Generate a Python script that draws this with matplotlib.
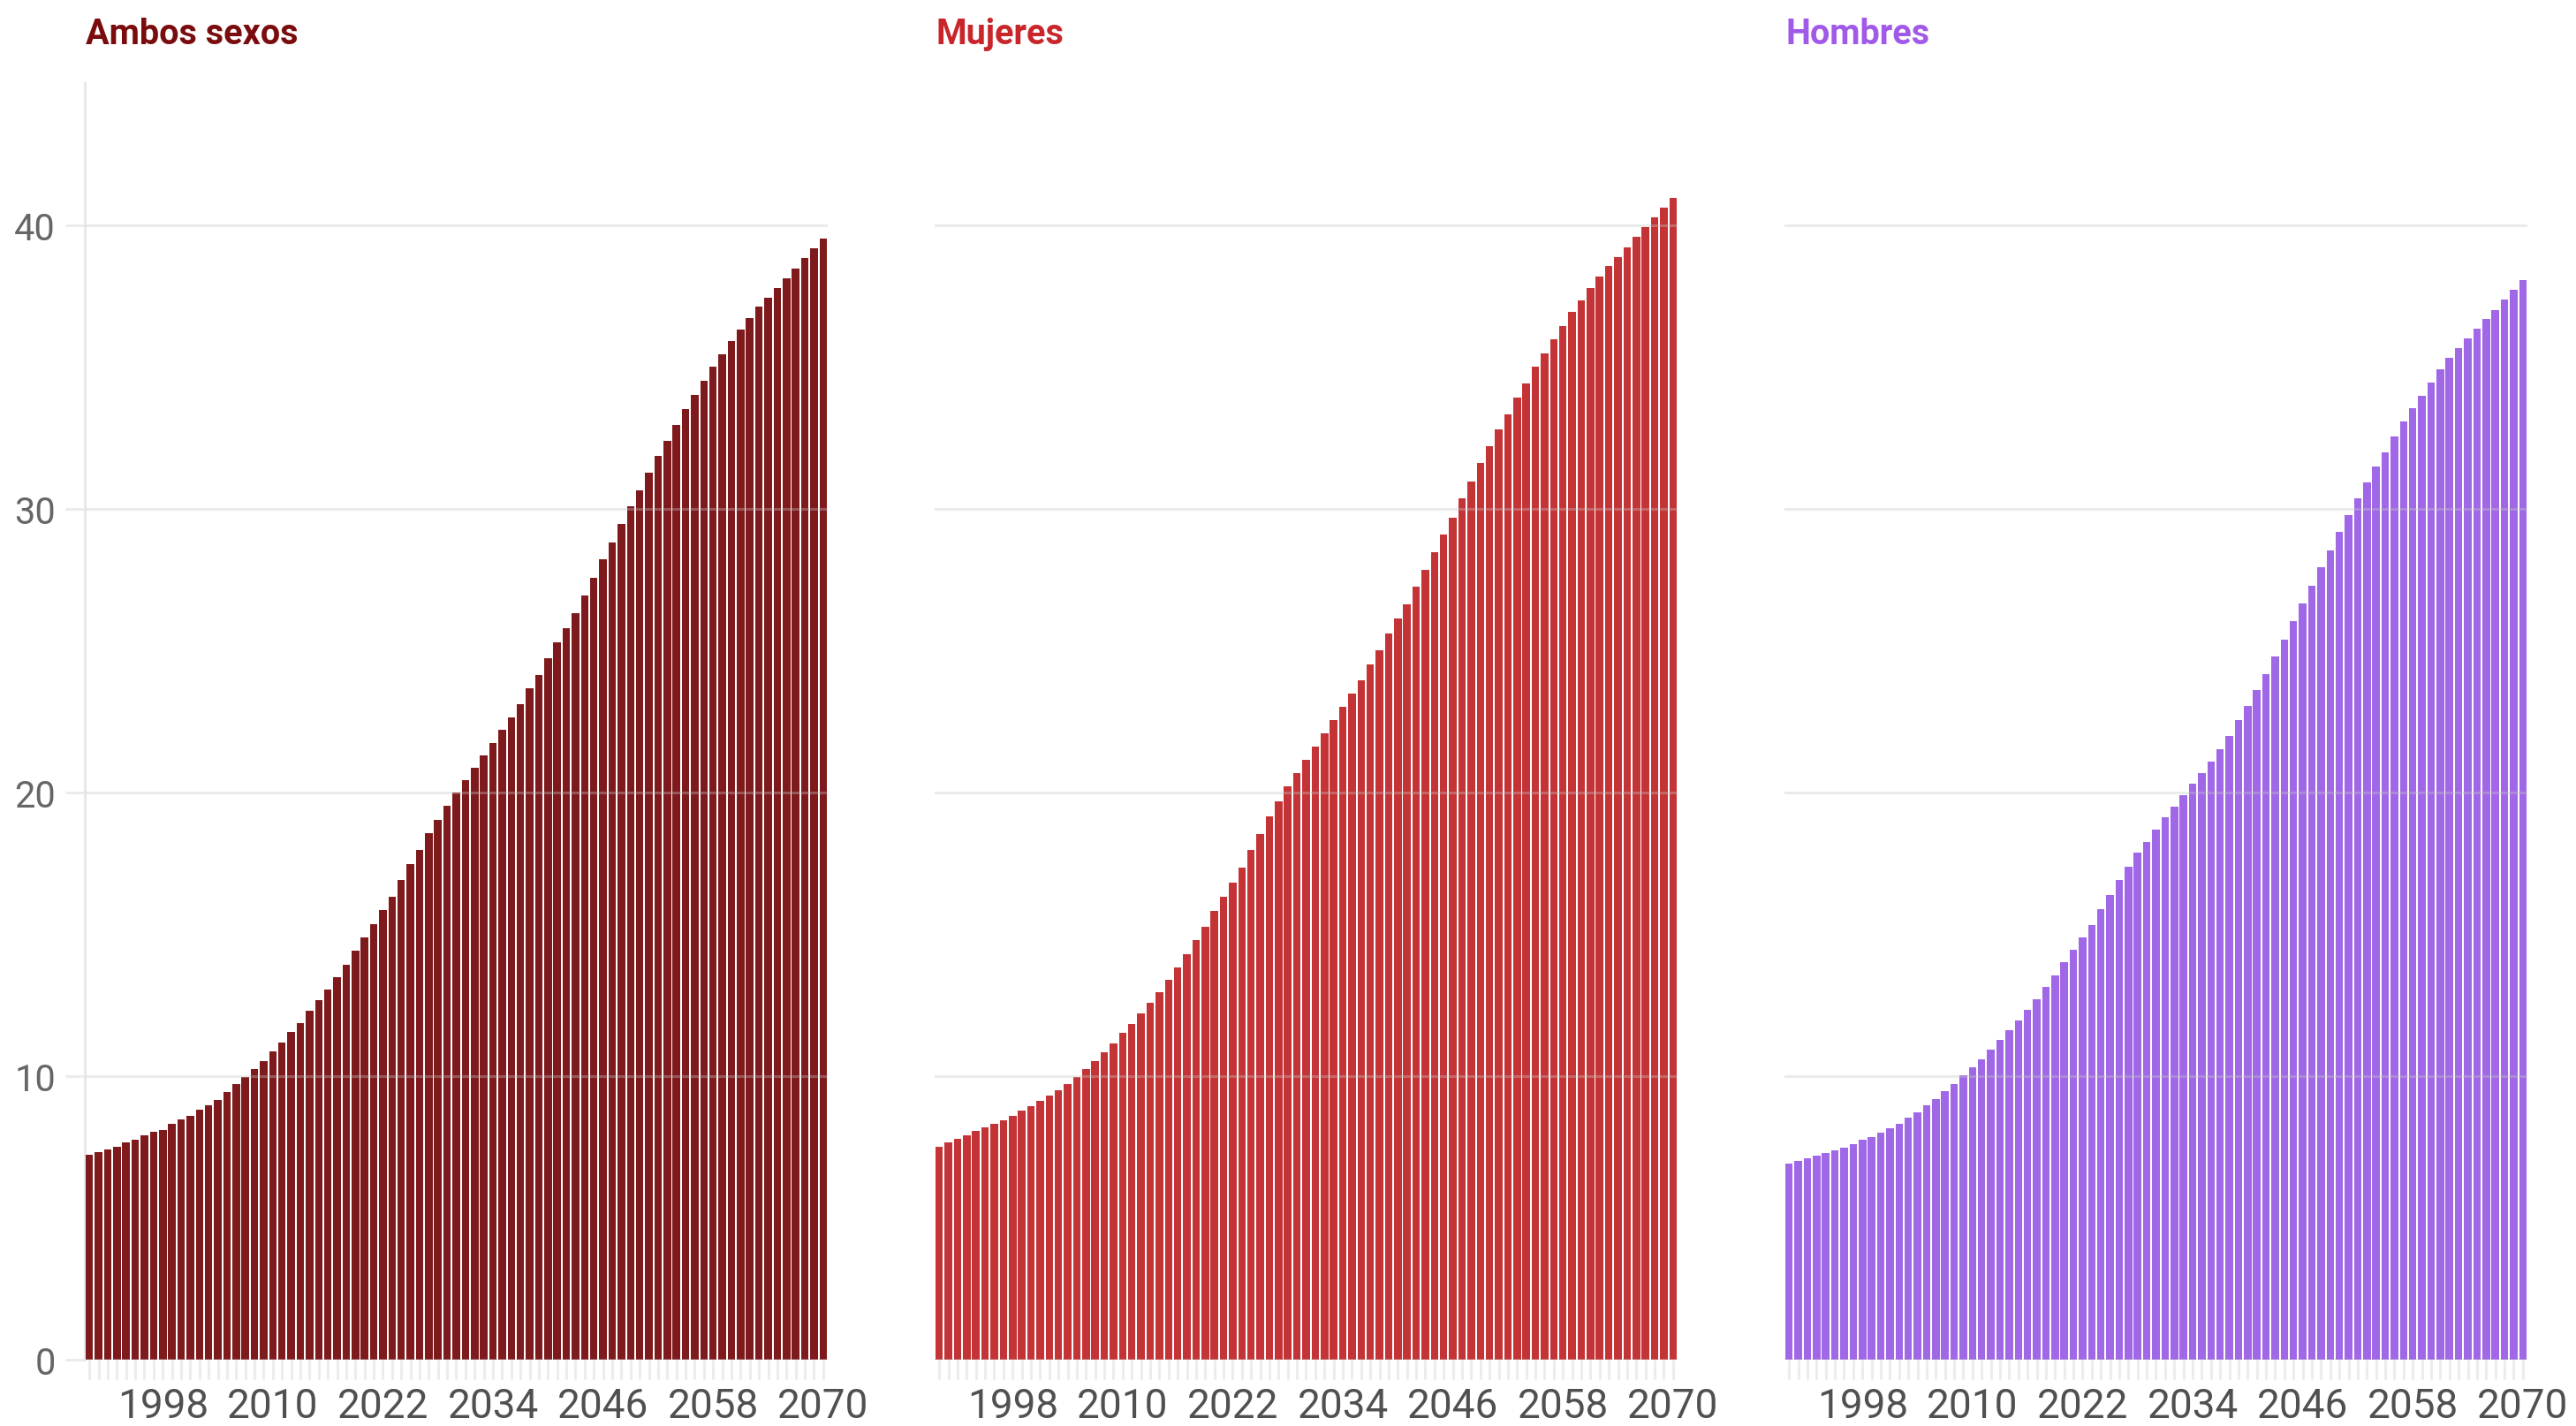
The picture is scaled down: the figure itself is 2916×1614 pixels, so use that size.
import matplotlib
matplotlib.use("Agg")
import matplotlib.pyplot as plt

years = list(range(1990, 2071))

ambos = [7.22, 7.33, 7.42, 7.52, 7.65, 7.75, 7.92, 8.03, 8.11, 8.30, 8.47, 8.58, 8.80, 8.97,
         9.17, 9.45, 9.71, 9.95, 10.26, 10.52, 10.86, 11.19, 11.54, 11.87,
         12.29, 12.67, 13.04, 13.49, 13.92, 14.41, 14.89, 15.34, 15.85, 16.32, 16.92, 17.47,
         17.98, 18.55, 19.03, 19.52, 20.0, 20.43, 20.86, 21.29, 21.74, 22.20, 22.63, 23.12,
         23.66, 24.14, 24.73, 25.29,
         25.8, 26.31, 26.93, 27.56, 28.2, 28.8, 29.45, 30.09, 30.65, 31.27, 31.85, 32.4,
         32.96, 33.51, 34.0, 34.49, 35.0, 35.44, 35.91, 36.31, 36.73, 37.11, 37.43, 37.76,
         38.11, 38.47, 38.83, 39.17, 39.51]

mujeres = [7.5, 7.66, 7.79, 7.92, 8.07, 8.18, 8.33, 8.44, 8.59, 8.78, 8.94, 9.11, 9.30, 9.5,
           9.71, 9.98, 10.26, 10.52, 10.83, 11.15, 11.51, 11.82, 12.21, 12.58, 12.97, 13.39,
           13.83, 14.29, 14.79, 15.26, 15.81, 16.33, 16.82, 17.34, 17.97, 18.54, 19.14, 19.69,
           20.21,
           20.68, 21.15, 21.61, 22.08, 22.55, 23.02, 23.48,
           23.95, 24.52, 25.01, 25.59, 26.12, 26.64, 27.25, 27.84, 28.45, 29.08, 29.69, 30.35,
           30.96, 31.62, 32.19, 32.8, 33.32, 33.91, 34.41, 34.99, 35.47, 35.96, 36.43, 36.92,
           37.34, 37.77, 38.19, 38.55, 38.86, 39.22, 39.58, 39.92, 40.28, 40.62, 40.95]

hombres = [6.9, 7.0, 7.1, 7.19, 7.29, 7.38, 7.48, 7.6, 7.76, 7.86, 8.0, 8.15, 8.33, 8.52,
           8.73, 8.96, 9.2, 9.46, 9.72, 10.03, 10.31, 10.6, 10.94, 11.28, 11.61, 11.95, 12.34,
           12.71, 13.13, 13.54, 14.01, 14.46, 14.9, 15.33, 15.89, 16.38, 16.9, 17.38, 17.86,
           18.25, 18.7, 19.11, 19.5, 19.9, 20.31,
           20.69,
           21.07, 21.51, 21.99, 22.54, 23.04, 23.62, 24.18, 24.78, 25.37, 26.03, 26.66, 27.28,
           27.93, 28.53, 29.18, 29.78, 30.37, 30.92, 31.49, 31.99, 32.54, 33.07, 33.55, 33.99,
           34.45, 34.91, 35.3, 35.66, 36.01, 36.33, 36.67, 37.01, 37.37, 37.7, 38.07]

titles = ["Ambos sexos", "Mujeres", "Hombres"]
series = [ambos, mujeres, hombres]
bar_colors = ["#7f1a1c", "#c43336", "#a067e6"]
title_colors = ["#7a0c0e", "#c8262b", "#a159e8"]
label_years = [1998, 2010, 2022, 2034, 2046, 2058, 2070]
y_ticks = [0, 10, 20, 30, 40]

W, H = 2916, 1615
DPI = 100
plt.rcParams['font.family'] = ['Roboto', 'DejaVu Sans']
fig = plt.figure(figsize=(W / DPI, H / DPI), dpi=DPI)

lefts_px = [96, 1058, 2020]
width_px = 841
bottom_px = 1540
top_px = 95

for i, (title, vals, bc, tc) in enumerate(zip(titles, series, bar_colors, title_colors)):
    ax = fig.add_axes([lefts_px[i] / W, (H - bottom_px) / H,
                       width_px / W, (bottom_px - top_px) / H])
    ax.bar(years, vals, width=0.82, color=bc, linewidth=0, zorder=1)
    ax.set_xlim(years[0] - 0.5, years[-1] + 0.5)
    ax.set_ylim(0, 45)

    ax.set_xticks(years)
    ax.set_xticklabels([str(y) if y in label_years else "" for y in years])
    ax.tick_params(axis='x', length=22 * 72 / DPI, width=2.2, color='#ececec',
                   pad=6, labelsize=33, labelcolor='#505050')

    ax.set_yticks(y_ticks)
    ax.set_axisbelow(False)
    ax.yaxis.grid(True, color='#c8c8c8', alpha=0.35, linewidth=2.2)
    ax.xaxis.grid(False)
    for s in ['top', 'right', 'bottom']:
        ax.spines[s].set_visible(False)
    if i == 0:
        ax.spines['left'].set_color('#e8e8e8')
        ax.spines['left'].set_linewidth(2.2)
        ax.spines['left'].set_zorder(0)
        ax.tick_params(axis='y', length=22 * 72 / DPI, width=2.2, color='#ececec',
                       pad=8, labelsize=30, labelcolor='#666666')
    else:
        ax.spines['left'].set_visible(False)
        ax.tick_params(axis='y', length=0, labelleft=False)

    fig.text(lefts_px[i] / W + 1 / W, 1 - 50 / H, title, color=tc, fontsize=28.5,
             fontweight='bold', ha='left', va='baseline')

fig.savefig("out.png", dpi=DPI, facecolor='white')
